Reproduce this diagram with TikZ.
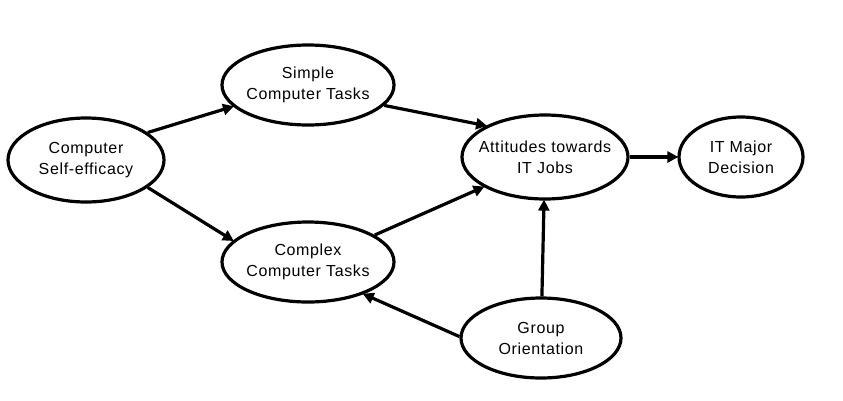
\documentclass[tikz,border=0pt]{standalone}
\usepackage{fontspec}
\setmainfont[LetterSpace=4]{Liberation Sans}
\usetikzlibrary{shapes.geometric,arrows.meta}
\begin{document}
\begin{tikzpicture}[x=1pt,y=-1pt,
  construct/.style={draw=black, line width=3.2pt, ellipse, inner sep=0pt,
    minimum width=#1},
  construct/.default=170pt,
  caption/.style={align=center, font=\fontsize{16}{21}\selectfont},
  path/.style={draw=black, line width=3.2pt,
    -{Triangle[length=11pt,width=11pt]}, shorten >=-1pt}]
  \useasboundingbox[fill=white] (0,0) rectangle (843,400);

  \node[construct=156pt, minimum height=84pt] (cse) at (86,160)
    [label={[caption]center:Computer\\Self-efficacy}] {};
  \node[construct=172pt, minimum height=80pt] (simple) at (308,85)
    [label={[caption]center:Simple\\Computer Tasks}] {};
  \node[construct=172pt, minimum height=80pt] (complex) at (308,262)
    [label={[caption]center:Complex\\Computer Tasks}] {};
  \node[construct=166pt, minimum height=84pt] (att) at (545,157)
    [label={[caption]center:Attitudes towards\\IT Jobs}] {};
  \node[construct=124pt, minimum height=80pt] (itmd) at (741,157)
    [label={[caption]center:IT Major\\Decision}] {};
  \node[construct=160pt, minimum height=80pt] (group) at (541,338)
    [label={[caption]center:Group\\Orientation}] {};

  \draw[path] (cse.24) -- (simple.196);
  \draw[path] (cse.-24) -- (complex.164);
  \draw[path] (simple.-15) -- (att.152);
  \draw[path] (complex.22) -- (att.206);
  \draw[path] (att) -- (itmd);
  \draw[path] (group) -- (att);
  \draw[path] (group.179) -- (complex.-30);
\end{tikzpicture}
\end{document}
